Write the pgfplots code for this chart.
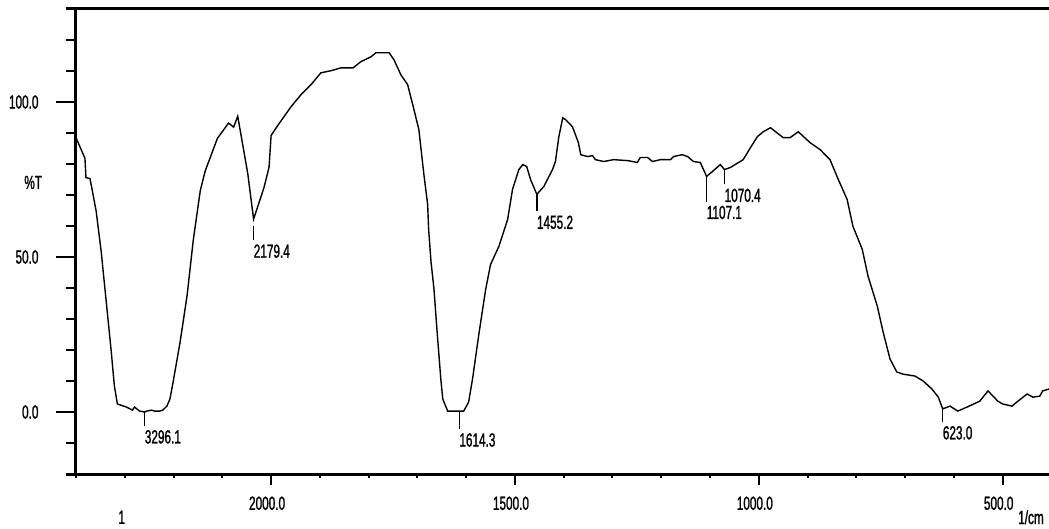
\documentclass[border=0pt]{standalone}
\usepackage{fontspec}
\setmainfont{Liberation Sans}[FakeStretch=0.62, FakeBold=1.2]
\usepackage{pgfplots}
\usepackage{pgfplotstable}
\pgfplotsset{compat=1.18}

% peak markers: x, bottom of the marker line, its length, label
\pgfplotstableread{
x y len lab
3296.1 -4.5 4.8 3296.1
2179.4 55.4 4.5 2179.4
1614.3 -5.5 5.8 1614.3
1455.2 64.7 5.5 1455.2
1107.1 67.9 8.1 1107.1
1070.4 73.4 4.8 1070.4
623.0 -3.2 4.2 623.0
}\peaks

\pgfplotsset{
  irframe/.style={
    scale only axis,
    width=973pt, height=465pt,
    at={(0,0)}, anchor=south west,
    % 4000-2000 is drawn at a fifth of the scale, as on the spectrometer print
    x coord trafo/.code={\pgfmathparse{##1>2000 ? -2000-(##1-2000)/5 : -##1}},
    x coord inv trafo/.code={\pgfmathparse{##1<-2000 ? 2000-5*(##1+2000) : -##1}},
    xmin=4000, xmax=405,
    ymin=-20, ymax=130,
    axis lines*=left,
    tick align=outside,
    tick style={line width=2pt, black},
    tick label style={font=\fontsize{19}{19}\selectfont},
    clip mode=individual,
  }
}

\begin{document}
\begin{tikzpicture}
% x ticks only
\begin{axis}[irframe,
    axis line style={draw=none},
    major tick length=11pt, minor tick length=4pt,
    ytick=\empty,
    xtick={2000,1500,1000,500},
    xticklabels={2000.0,1500.0,1000.0,500.0},
    minor xtick={4000,3500,3000,2500,1900,1800,1700,1600,1400,1300,1200,1100,900,800,700,600},
    xticklabel style={xshift=-4pt, yshift=-8pt},
]
\addplot[draw=none] coordinates {(1000,0)};
\end{axis}

% frame, y ticks and spectrum
\begin{axis}[irframe,
    axis line style={line width=3pt},
    major tick length=20pt, minor tick length=10pt,
    xtick=\empty,
    ytick={0,50,100},
    yticklabels={0.0,50.0,100.0},
    minor ytick={-10,10,20,30,40,60,70,80,90,110,120},
    yticklabel style={xshift=-14pt},
]

\addplot[black, line width=1.4pt] coordinates {
(4000,88.5) (3908,81.8) (3898,75.6) (3856,75.3) (3794,64.9) (3742,51.8)
(3690,35.6) (3638,19.3) (3607,8.5) (3576,2.6) (3483,1.6) (3421,0.6)
(3400,1.6) (3348,0.3) (3296.1,0.0) (3275,0.3) (3224,0.6) (3193,0.3)
(3141,0.3) (3110,0.6) (3068,1.9) (3037,4.2) (3006,9.4) (2933,22.5)
(2861,37.6) (2798,55.4) (2726,71.4) (2674,77.9) (2550,88.3) (2436,93.2)
(2384,91.9) (2342,95.4) (2239,76.9) (2179.4,62.2) (2073,72.4) (2021,78.9)
(2000,89.2) (1986,92.5) (1959,98.5) (1939,102.3) (1918,105.6) (1898,109.4)
(1877,110.1) (1857,111.0) (1832,111.0) (1816,113.0) (1795,114.6) (1785,115.9)
(1758,115.9) (1748,113.6) (1734,108.8) (1720,105.6) (1707,97.5) (1697,91.1)
(1687,77.0) (1679,67.0) (1677,58.9) (1672,48.3) (1666,39.6) (1660,26.7)
(1652,10.6) (1648,4.2) (1638,0.3) (1621,0.3) (1614.3,0.3) (1605,0.3)
(1595,3.2) (1587,10.6) (1574,25.1) (1560,39.6) (1550,47.6) (1533,53.4)
(1515,62.1) (1505,71.8) (1492,78.2) (1484,79.8) (1476,79.2) (1468,75.0)
(1455.2,70.2) (1441,72.7) (1423,78.2) (1417,80.8) (1410,88.8) (1402,94.9)
(1396,94.3) (1382,92.0) (1370,86.9) (1365,83.0) (1351,82.4) (1341,82.7)
(1335,81.4) (1318,80.8) (1298,81.4) (1269,81.1) (1249,80.5) (1243,82.1)
(1228,82.1) (1218,80.8) (1202,81.4) (1181,81.4) (1175,82.4) (1157,83.0)
(1146,82.4) (1134,80.8) (1120,80.5) (1107.1,76.0) (1095,77.6) (1079,79.8)
(1070.4,78.2) (1058,78.9) (1032,81.4) (1017,85.3) (1003,88.8) (991,90.4)
(976,91.7) (950,88.5) (936,88.5) (919,90.4) (895,86.9) (874,84.6)
(854,81.4) (837,75.0) (819,68.6) (807,59.9) (788,52.5) (776,43.8)
(757,34.1) (745,25.7) (731,17.1) (717,12.9) (704,12.2) (680,11.6)
(663,10.0) (645,7.4) (632,4.8) (623.0,1.0) (608,1.9) (592,0.3)
(573,1.6) (547,3.5) (530,6.8) (510,3.5) (500,2.6) (481,1.9)
(471,3.2) (450,5.8) (438,4.8) (424,5.1) (418,6.8) (405,7.4)
};

% peak ticks and their wavenumbers
\addplot[draw=none, forget plot, point meta=explicit symbolic,
    nodes near coords,
    nodes near coords style={anchor=north west, inner sep=0pt, yshift=-4pt,
        font=\fontsize{19}{19}\selectfont},
    error bars/.cd, y dir=plus, y explicit, error mark=none,
    error bar style={draw=black, line width=1.4pt}]
    table[x=x, y=y, y error plus=len, meta=lab] {\peaks};

\draw[line width=3pt] ([xshift=-10pt]axis description cs:0,1) -- (axis description cs:1,1);
\draw[line width=3pt] ([xshift=-10pt]axis description cs:0,0) -- (axis description cs:0,0);
\node[font=\fontsize{19}{19}\selectfont] at (axis description cs:-0.044,0.627) {\%T};
\node[font=\fontsize{19}{19}\selectfont] at (axis description cs:0.047,-0.093) {1};
\node[font=\fontsize{19}{19}\selectfont] at (axis description cs:0.9815,-0.093) {1/cm};
\end{axis}
\pgfresetboundingbox
\path[use as bounding box] (-76pt,-54pt) rectangle (973pt,474pt);
\end{tikzpicture}
\end{document}
